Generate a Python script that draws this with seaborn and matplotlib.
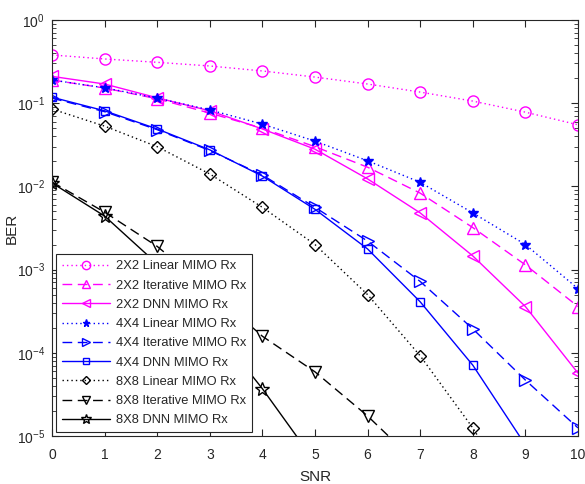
import numpy as np
import pandas as pd
import matplotlib
matplotlib.use("Agg")
import matplotlib.pyplot as plt
import seaborn as sns

# SNR axis and BER curves
snr = [0, 1, 2, 3, 4, 5, 6, 7, 8, 9, 10]

ber_2x2_linear = [0.38, 0.34, 0.31, 0.28, 0.244, 0.206, 0.17, 0.136, 0.106, 0.078, 0.055]
ber_2x2_iter = [0.19, 0.152, 0.113, 0.076, 0.05, 0.030, 0.017, 0.0083, 0.0032, 0.00114, 0.00036]
ber_2x2_dnn = [0.21, 0.17, 0.116, 0.081, 0.049, 0.028, 0.0123, 0.0048, 0.00146, 0.00036, 0.000057]

ber_4x4_linear = [0.19, 0.153, 0.115, 0.083, 0.056, 0.035, 0.0203, 0.0112, 0.0048, 0.0020, 0.00059]
ber_4x4_iter = [0.115, 0.079, 0.048, 0.027, 0.0137, 0.0056, 0.0022, 0.00072, 0.000194, 0.000047, 0.0000125]
ber_4x4_dnn = [0.118, 0.081, 0.049, 0.0275, 0.0133, 0.0053, 0.00177, 0.00041, 0.000071, 0.0000078, 0.0000008]

ber_8x8_linear = [0.085, 0.053, 0.030, 0.0141, 0.0056, 0.0020, 0.0005, 0.000092, 0.0000125, 0.0000012, 0.0000001]
ber_8x8_iter = [0.0113, 0.0049, 0.0019, 0.00057, 0.000158, 0.000059, 0.0000174, 0.0000043, 0.0000009, 0.0000002, 0.00000004]
ber_8x8_dnn = [0.0110, 0.0044, 0.00117, 0.00023, 0.000037, 0.0000049, 0.0000006, 0.00000007, 0.00000001, 0.000000001, 0.0000000001]

labels = [
    "2X2 Linear MIMO Rx", "2X2 Iterative MIMO Rx", "2X2 DNN MIMO Rx",
    "4X4 Linear MIMO Rx", "4X4 Iterative MIMO Rx", "4X4 DNN MIMO Rx",
    "8X8 Linear MIMO Rx", "8X8 Iterative MIMO Rx", "8X8 DNN MIMO Rx",
]
series = [
    ber_2x2_linear, ber_2x2_iter, ber_2x2_dnn,
    ber_4x4_linear, ber_4x4_iter, ber_4x4_dnn,
    ber_8x8_linear, ber_8x8_iter, ber_8x8_dnn,
]

# styles
dotted = (0, (1, 2.2))
dashed = (0, (7, 4))
solid = "-"
styles = [
    ("#FF00FF", dotted, "o", 8, True),
    ("#FF00FF", dashed, "^", 8, True),
    ("#FF00FF", solid, "<", 8, True),
    ("#0000FF", dotted, "*", 7, False),
    ("#0000FF", dashed, ">", 8, True),
    ("#0000FF", solid, "s", 6, True),
    ("black", dotted, "D", 6, True),
    ("black", dashed, "v", 8, True),
    ("black", solid, "*", 10.5, True),
]

sns.set_style("ticks")
plt.rcParams["font.family"] = ["Liberation Sans", "DejaVu Sans"]
plt.rcParams["mathtext.fontset"] = "custom"
plt.rcParams["mathtext.rm"] = "Liberation Sans"

fig = plt.figure(figsize=(5.85, 4.84), dpi=100)
ax = fig.add_axes([0.0889, 0.0992, 0.8991, 0.8595])

for vals, lab, (col, ls, mk, ms, hollow) in zip(series, labels, styles):
    sns.lineplot(
        x=snr, y=vals, ax=ax, label=lab, color=col, linestyle=ls,
        linewidth=1.0, marker=mk, markersize=ms,
        markerfacecolor="none" if hollow else col,
        markeredgecolor=col, markeredgewidth=1.0,
    )

ax.set_yscale("log")
ax.set_ylim(1e-5, 1)
ax.set_xlim(0, 10)
ax.set_xticks(range(0, 11))
ax.tick_params(which="both", direction="in", top=True, right=True, labelsize=10, colors="#262626")
ax.tick_params(which="major", length=5)
ax.tick_params(which="minor", length=3)
ax.tick_params(axis="x", pad=8.5)
ax.tick_params(axis="y", pad=5)
for sp in ax.spines.values():
    sp.set_visible(True)
    sp.set_color("#262626")
    sp.set_linewidth(0.8)

ax.set_xlabel("SNR", fontsize=11, color="#262626", labelpad=6)
ax.set_ylabel("BER", fontsize=11, color="#262626", labelpad=-1.5)

leg = ax.legend(
    loc="lower left", bbox_to_anchor=(0.008, 0.009), borderaxespad=0,
    fontsize=9.3, handlelength=3.7, labelspacing=0.56, fancybox=False,
    framealpha=1, edgecolor="#262626", borderpad=0.45, handletextpad=0.45,
    markerscale=0.75,
)
leg.get_frame().set_linewidth(0.8)

fig.savefig("out.png", dpi=100)
